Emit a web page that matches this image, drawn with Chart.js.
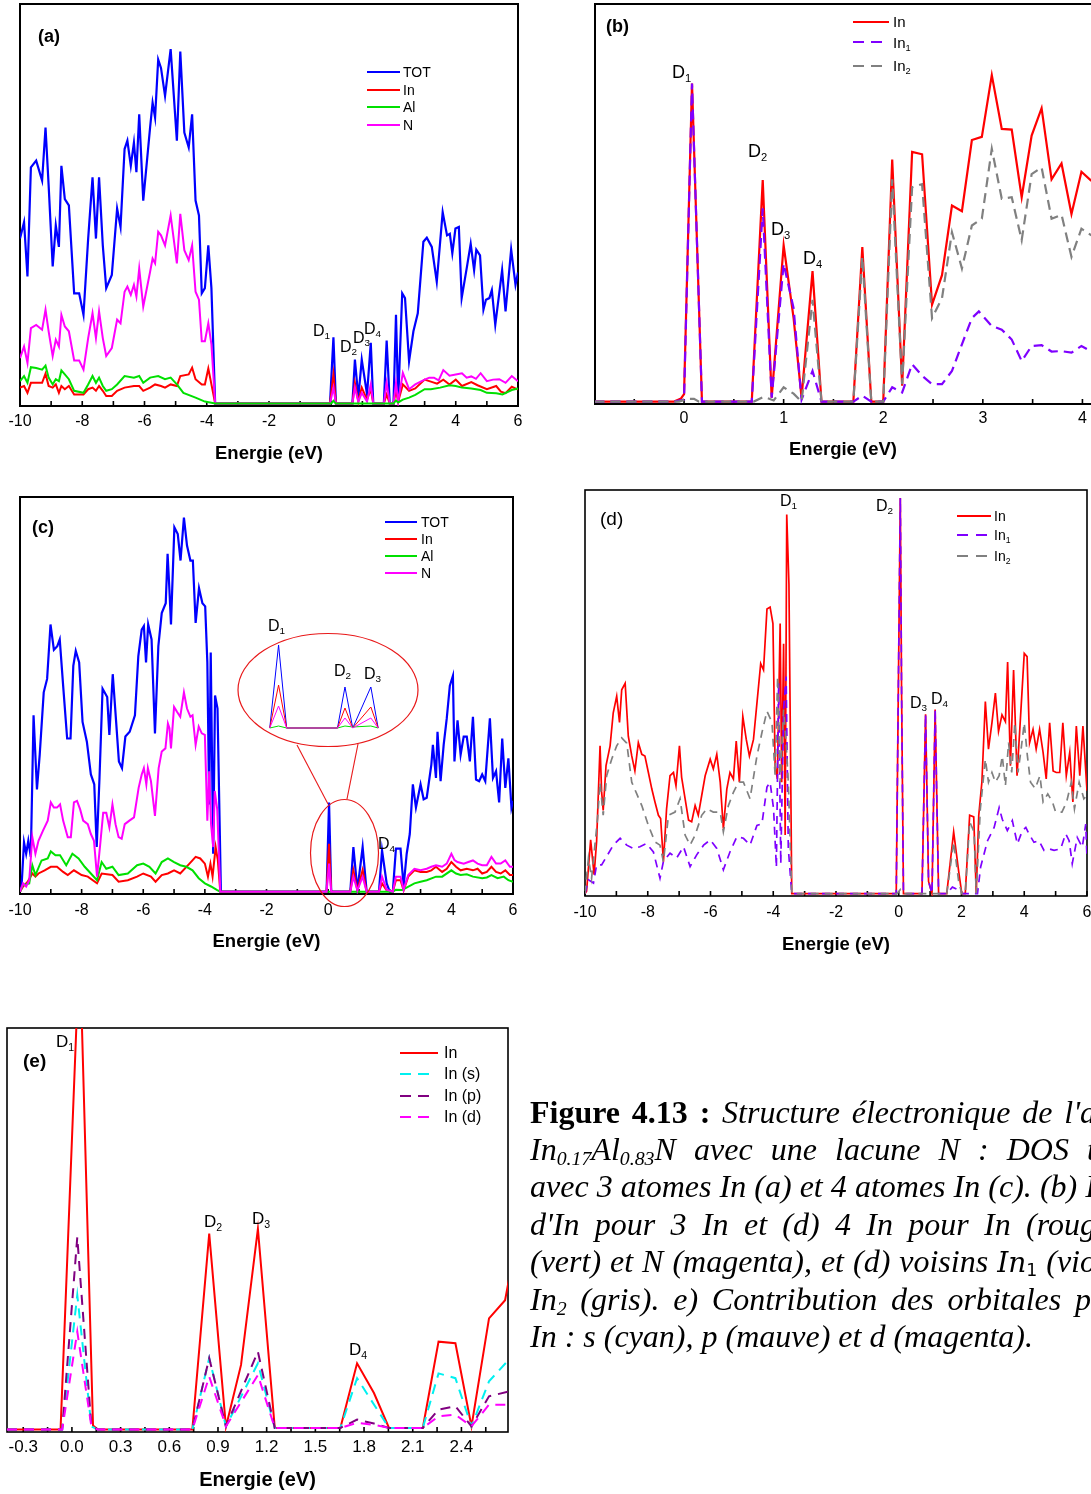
<!DOCTYPE html>
<html><head><meta charset="utf-8">
<script src="https://cdn.jsdelivr.net/npm/chart.js@4.4.1/dist/chart.umd.min.js"></script>
<style>
html,body{margin:0;padding:0;background:#fff;overflow:hidden;width:1091px;height:1494px;}
body{position:relative;font-family:'Liberation Sans',Arial,sans-serif;}
.box{position:absolute;}
.lbl{position:absolute;white-space:nowrap;color:#000;line-height:1;}
.lbl sub{font-size:62%;vertical-align:-0.35em;line-height:0;}
#cap{position:absolute;left:530px;top:1094px;font-family:'Liberation Serif','Times New Roman',serif;font-size:32px;line-height:37.2px;color:#000;}
#cap .cl{white-space:nowrap;width:566px;text-align:justify;text-align-last:justify;font-style:italic;}
#cap .cl.last{text-align:left;text-align-last:left;}
#cap b{font-style:normal;}
#cap sub{font-size:62%;vertical-align:-0.25em;line-height:0;}
#cap .m{font-family:'DejaVu Serif',serif;font-size:28px;}
#cap .m sub{font-style:normal;font-family:'DejaVu Sans',sans-serif;}
</style></head><body>

<script>
// ---------------- DATA ----------------
// tick labels
const TICKS_WIDE = [-10,-8,-6,-4,-2,0,2,4,6];
const TICKS_B = [0,1,2,3,4];
const TICKS_E = [-0.3,0.0,0.3,0.6,0.9,1.2,1.5,1.8,2.1,2.4];

// Panel (a): DOS, 3 In atoms  [energy eV, DOS (relative %)]
const A_TOT = [[-10,41.3],[-9.87,45.4],[-9.76,31.8],[-9.65,59.1],[-9.48,60.8],[-9.29,55.8],[-9.18,69.1],[-9.08,54.6],[-8.95,34.3],[-8.85,44.6],[-8.75,39.2],[-8.67,59.5],[-8.56,51.2],[-8.43,49.6],[-8.26,27.6],[-8.10,27.6],[-7.96,22.2],[-7.81,41.3],[-7.67,56.6],[-7.56,41.3],[-7.46,56.6],[-7.34,39.6],[-7.23,28.9],[-7.05,32.2],[-6.88,48.8],[-6.77,44.2],[-6.64,63.7],[-6.55,65.8],[-6.44,59.5],[-6.34,65.3],[-6.26,57.9],[-6.17,72.4],[-6.04,50.8],[-5.82,69.1],[-5.74,75.3],[-5.66,71.6],[-5.56,86.1],[-5.47,84.0],[-5.34,77.0],[-5.16,88.7],[-4.96,65.8],[-4.85,88.1],[-4.72,67.8],[-4.58,64.1],[-4.47,72.4],[-4.36,50.8],[-4.25,47.1],[-4.16,27.6],[-4.06,28.9],[-3.95,39.6],[-3.85,28.9],[-3.73,0],
[-0.04,0],[0.07,16.6],[0.15,0],[0.68,0],[0.76,11.0],[0.87,1.5],[0.98,11.0],[1.15,2.3],[1.27,15.2],[1.35,0],[1.69,0],[1.78,15.8],[1.88,0],[2.0,0],[2.08,22.2],[2.15,0.7],[2.28,27.6],[2.37,26.4],[2.5,10.6],[2.64,18.1],[2.78,22.6],[2.96,40.5],[3.07,41.5],[3.23,39.2],[3.39,30.5],[3.58,47.9],[3.72,42.1],[3.81,42.5],[3.89,37.6],[3.99,43.8],[4.1,44.2],[4.19,26.4],[4.37,34.7],[4.48,40.0],[4.59,33.4],[4.66,38.5],[4.78,37.1],[4.89,23.5],[4.97,26.0],[5.08,26.4],[5.16,28.4],[5.27,19.7],[5.49,33.4],[5.6,23.1],[5.78,38.6],[5.92,29.7],[6.0,32.8]];
const A_IN = [[-10,4.0],[-9.87,4.4],[-9.76,2.7],[-9.65,5.2],[-9.29,5.2],[-9.18,7.5],[-9.08,4.4],[-8.95,4.0],[-8.85,4.8],[-8.75,2.7],[-8.67,4.4],[-8.56,3.6],[-8.43,4.4],[-8.26,2.3],[-7.96,2.3],[-7.81,3.6],[-7.67,4.0],[-7.56,3.2],[-7.46,4.4],[-7.34,3.2],[-7.23,1.9],[-7.05,1.9],[-6.88,3.2],[-6.64,4.0],[-6.34,4.4],[-6.17,4.4],[-6.04,3.2],[-5.82,4.0],[-5.66,4.8],[-5.47,4.4],[-5.34,4.0],[-5.16,4.8],[-4.96,4.4],[-4.85,6.9],[-4.58,7.3],[-4.47,9.0],[-4.36,6.1],[-4.16,4.8],[-4.06,4.8],[-3.95,8.8],[-3.85,4.8],[-3.73,0],
[-0.04,0],[0.07,7.3],[0.15,0],[0.68,0],[0.76,5.2],[0.87,0.5],[0.98,4.0],[1.15,1.0],[1.27,3.6],[1.35,0],[1.69,0],[1.78,2.3],[1.88,0],[2.0,0],[2.08,3.2],[2.15,0.5],[2.3,4.8],[2.5,3.2],[2.7,3.8],[3.0,6.0],[3.2,5.5],[3.4,5.0],[3.6,6.0],[3.8,4.8],[4.0,6.0],[4.2,4.4],[4.5,5.4],[4.7,4.6],[5.0,3.6],[5.3,4.4],[5.45,3.0],[5.6,2.6],[5.8,4.2],[6.0,3.5]];
const A_AL = [[-10,5.6],[-9.87,6.9],[-9.76,5.2],[-9.65,9.1],[-9.48,8.9],[-9.29,8.5],[-9.18,9.5],[-9.08,6.5],[-8.95,4.8],[-8.85,6.1],[-8.75,5.6],[-8.67,8.3],[-8.56,7.3],[-8.43,6.1],[-8.26,3.2],[-7.96,2.7],[-7.81,4.8],[-7.67,6.9],[-7.56,5.2],[-7.46,6.5],[-7.34,4.4],[-7.23,3.2],[-7.05,3.6],[-6.88,4.8],[-6.64,6.9],[-6.34,6.5],[-6.17,6.9],[-6.04,5.2],[-5.82,6.5],[-5.56,6.9],[-5.34,6.1],[-5.16,6.5],[-4.96,4.8],[-4.75,2.7],[-4.36,1.5],[-4.06,0.5],[-3.73,0],
[0.0,0],[0.07,0.7],[0.15,0],[2.0,0],[2.08,0.8],[2.15,0.3],[2.3,1.0],[2.5,1.5],[2.7,2.2],[3.0,3.6],[3.2,3.6],[3.5,4.0],[3.8,4.6],[4.0,4.4],[4.2,4.0],[4.5,3.8],[4.8,3.4],[5.0,2.7],[5.3,2.6],[5.5,2.3],[5.8,3.4],[6.0,3.8]];
const A_N = [[-10,11.4],[-9.87,14.3],[-9.76,10.2],[-9.65,18.9],[-9.48,19.7],[-9.29,18.5],[-9.18,23.5],[-9.08,18.1],[-8.95,11.9],[-8.85,16.0],[-8.75,14.3],[-8.67,22.2],[-8.56,19.3],[-8.43,18.1],[-8.26,10.8],[-8.10,10.8],[-7.96,8.5],[-7.81,16.4],[-7.67,22.6],[-7.56,16.4],[-7.46,23.1],[-7.34,16.4],[-7.23,11.9],[-7.05,13.9],[-6.88,21.0],[-6.77,20.1],[-6.64,28.0],[-6.55,29.3],[-6.44,27.2],[-6.34,29.7],[-6.26,26.8],[-6.17,33.8],[-6.04,24.3],[-5.82,33.0],[-5.74,36.3],[-5.66,35.1],[-5.56,43.0],[-5.47,42.1],[-5.34,39.6],[-5.16,47.1],[-4.96,35.1],[-4.85,47.5],[-4.72,38.4],[-4.58,35.9],[-4.47,39.6],[-4.36,28.0],[-4.25,26.0],[-4.16,15.6],[-4.06,15.6],[-3.95,20.1],[-3.85,14.8],[-3.73,0],
[-0.04,0],[0.07,4.0],[0.15,0],[0.68,0],[0.76,4.0],[0.87,0.5],[0.98,2.7],[1.15,0.5],[1.27,4.8],[1.35,0],[1.69,0],[1.78,5.2],[1.88,0],[2.0,0],[2.08,5.2],[2.15,0.5],[2.3,7.7],[2.5,3.6],[2.7,4.8],[3.0,6.0],[3.15,6.5],[3.3,6.5],[3.45,5.8],[3.6,8.4],[3.8,7.0],[4.0,7.3],[4.2,7.6],[4.35,6.5],[4.5,6.8],[4.65,6.2],[4.8,7.6],[5.0,5.6],[5.2,6.0],[5.4,6.1],[5.6,5.2],[5.8,6.9],[6.0,5.6]];

// Panel (b): In partial DOS, 3 In
const B_IN = [[-0.9,0],[-0.1,0],[-0.03,0.8],[0,1.9],[0.08,80],[0.18,0],[0.68,0],[0.79,55.7],[0.88,1],[1.0,39.3],[1.1,21],[1.18,1],[1.29,32.8],[1.38,0],[1.7,0],[1.79,38.9],[1.88,0],[2.0,0],[2.09,60.9],[2.19,4],[2.29,62.8],[2.39,62.2],[2.49,24.4],[2.59,31.8],[2.69,49.3],[2.79,47.9],[2.89,65.8],[2.99,66.6],[3.09,82.1],[3.19,68.6],[3.29,68.4],[3.39,51.4],[3.49,66.9],[3.59,73.8],[3.69,55.9],[3.79,59.9],[3.89,47.2],[3.99,57.8],[4.09,55.5],[4.2,54]];
const B_IN1 = [[-0.9,0],[-0.1,0],[0,0.5],[0.08,80],[0.18,0],[0.68,0],[0.79,48.6],[0.88,1],[1.0,34.7],[1.1,23.5],[1.18,0.5],[1.29,7.7],[1.38,0],[1.7,0],[1.79,1.5],[1.88,0],[2.0,0],[2.09,3.6],[2.19,2.3],[2.29,9.4],[2.39,6.5],[2.49,4.4],[2.59,4.4],[2.69,7.7],[2.79,14.4],[2.89,21],[2.96,22.7],[3.09,19],[3.19,18.1],[3.29,15.6],[3.39,10.2],[3.49,14],[3.59,14.2],[3.69,12.6],[3.79,12.7],[3.89,12.3],[3.99,14],[4.09,12.6],[4.2,13]];
const B_IN2 = [[-0.9,0],[-0.05,0],[0.03,0.7],[0.1,0.7],[0.15,0],[0.7,0],[0.8,1.2],[0.9,0.3],[1.0,3.6],[1.1,2],[1.18,0],[1.29,25.6],[1.38,0],[1.7,0],[1.79,36.4],[1.88,0],[2.0,0],[2.09,55.9],[2.19,4.4],[2.29,53.9],[2.39,54.7],[2.49,21],[2.59,26],[2.69,42.6],[2.79,33.5],[2.89,44.3],[2.99,46],[3.09,63.6],[3.19,51],[3.29,51.4],[3.39,40.6],[3.49,57.2],[3.59,58.9],[3.69,46],[3.79,47],[3.89,36.4],[3.99,43.5],[4.09,41.8],[4.2,41]];

// Panel (c): DOS, 4 In atoms
const C_TOT = [[-10,0],[-9.95,1.3],[-9.87,12.5],[-9.80,9.6],[-9.73,12.9],[-9.65,8.8],[-9.56,44.7],[-9.45,25.9],[-9.36,34.7],[-9.23,50.5],[-9.12,53.9],[-9.01,67.7],[-8.90,61.3],[-8.79,62.2],[-8.71,63.9],[-8.60,52.2],[-8.47,38.8],[-8.36,38.8],[-8.27,57.2],[-8.19,61.0],[-8.08,58.1],[-7.97,43.0],[-7.83,38.0],[-7.70,29.7],[-7.59,27.2],[-7.51,11.3],[-7.42,28.8],[-7.32,51.4],[-7.17,49.3],[-7.10,39.7],[-6.99,55.1],[-6.88,43.0],[-6.79,33.0],[-6.69,31.3],[-6.58,39.3],[-6.44,40.5],[-6.27,44.7],[-6.16,59.7],[-6.05,66.4],[-5.98,67.3],[-5.91,58.1],[-5.84,67.7],[-5.73,63.9],[-5.62,40.1],[-5.51,62.2],[-5.40,70.6],[-5.27,73.1],[-5.21,85.6],[-5.15,76.4],[-5.10,67.7],[-4.99,92.3],[-4.88,90.6],[-4.79,83.9],[-4.68,94.8],[-4.58,87.7],[-4.47,83.9],[-4.39,83.9],[-4.30,68.1],[-4.19,76.9],[-4.08,73.1],[-3.99,72.3],[-3.92,58.1],[-3.86,22.1],[-3.81,60.6],[-3.73,9.6],[-3.67,49.7],[-3.59,46.4],[-3.48,0],
[-0.05,0],[0.03,22.6],[0.1,0],[0.72,0],[0.82,11.3],[0.95,0.4],[1.12,11.3],[1.25,0],[1.65,0],[1.75,10.4],[1.9,2.1],[2.0,0],[2.1,0],[2.2,10.9],[2.35,10.9],[2.45,1.3],[2.55,9.6],[2.65,14.6],[2.75,27.2],[2.85,21.3],[3.0,27.2],[3.1,23.4],[3.2,23.8],[3.35,32.2],[3.4,37.2],[3.5,28.8],[3.55,40.5],[3.65,28.0],[3.75,37.2],[3.85,43.9],[3.95,52.2],[4.05,54.7],[4.1,33.0],[4.2,43.4],[4.3,34.7],[4.4,39.3],[4.5,39.3],[4.6,33.0],[4.7,44.3],[4.8,28.4],[4.9,28.0],[5.0,29.7],[5.1,28.0],[5.25,43.9],[5.35,28.8],[5.45,30.5],[5.55,22.6],[5.65,38.8],[5.75,26.3],[5.85,33.8],[5.95,21.3],[6.0,23.0]];
const C_IN = [[-10,0],[-9.9,1.3],[-9.75,2.5],[-9.6,4.6],[-9.5,3.8],[-9.4,4.6],[-9.2,5.4],[-9.0,6.3],[-8.8,6.3],[-8.6,5.0],[-8.45,4.2],[-8.25,5.4],[-8.0,4.2],[-7.8,3.8],[-7.5,2.1],[-7.35,4.6],[-7.0,4.2],[-6.8,2.5],[-6.5,2.9],[-6.2,3.8],[-6.0,4.6],[-5.75,3.8],[-5.6,2.5],[-5.4,4.2],[-5.2,4.6],[-5.0,5.4],[-4.8,4.6],[-4.5,7.1],[-4.3,8.8],[-4.15,8.4],[-4.0,7.1],[-3.9,3.8],[-3.82,7.1],[-3.75,3.8],[-3.65,11.3],[-3.58,8.0],[-3.5,0],
[-0.05,0],[0.03,12.1],[0.1,0],[0.72,0],[0.82,5.4],[0.95,0.3],[1.12,5.5],[1.25,0],[1.65,0],[1.75,2.1],[1.9,0.3],[2.1,0],[2.2,2.9],[2.35,2.9],[2.45,0.3],[2.6,3.8],[2.8,5.4],[3.0,5.0],[3.2,5.0],[3.35,5.4],[3.5,6.3],[3.7,5.0],[3.85,5.8],[4.0,7.5],[4.15,6.3],[4.3,5.4],[4.5,5.8],[4.7,5.4],[4.85,5.8],[5.0,4.6],[5.15,5.0],[5.3,6.3],[5.45,5.0],[5.6,4.6],[5.75,5.4],[5.9,4.2],[6.0,4.2]];
const C_AL = [[-10,0],[-9.9,1.7],[-9.7,2.1],[-9.6,6.7],[-9.5,4.2],[-9.3,7.9],[-9.1,8.4],[-9.0,10.2],[-8.85,9.2],[-8.7,9.2],[-8.5,6.7],[-8.3,9.6],[-8.1,8.4],[-7.9,6.3],[-7.7,4.6],[-7.5,2.9],[-7.35,7.5],[-7.2,5.8],[-7.0,6.3],[-6.8,4.2],[-6.5,4.6],[-6.2,6.7],[-6.0,7.1],[-5.8,6.3],[-5.6,4.6],[-5.4,7.5],[-5.2,8.4],[-5.0,7.5],[-4.8,6.7],[-4.6,6.3],[-4.4,5.4],[-4.2,3.4],[-4.0,2.1],[-3.8,1.3],[-3.6,0.4],[-3.5,0],
[2.1,0],[2.2,0.5],[2.4,0.4],[2.5,0.8],[2.8,2.1],[3.0,2.5],[3.2,2.9],[3.5,3.8],[3.7,3.8],[4.0,5.4],[4.15,4.6],[4.3,4.2],[4.5,4.4],[4.7,3.8],[5.0,3.4],[5.15,3.6],[5.3,4.2],[5.5,3.4],[5.7,3.8],[5.85,2.9],[6.0,2.5]];
const C_N = [[-10,0],[-9.9,2.1],[-9.8,1.3],[-9.7,2.9],[-9.6,13.8],[-9.5,9.6],[-9.4,12.9],[-9.25,15.5],[-9.1,18],[-9.0,22.6],[-8.9,21.3],[-8.8,21.3],[-8.7,22.1],[-8.6,18],[-8.45,13.8],[-8.35,13.8],[-8.25,22.6],[-8.15,23],[-8.05,20.9],[-7.95,18],[-7.8,17.1],[-7.7,14.6],[-7.6,12.9],[-7.5,3.8],[-7.4,11.7],[-7.3,20],[-7.2,20],[-7.1,16.3],[-7.0,22.1],[-6.9,17.1],[-6.8,13.8],[-6.7,13.4],[-6.6,17.1],[-6.45,18],[-6.3,18.8],[-6.15,26.3],[-6.05,29.7],[-5.98,31.3],[-5.9,27.2],[-5.85,31.3],[-5.75,28],[-5.62,19.2],[-5.5,31.3],[-5.4,35.5],[-5.28,36.3],[-5.2,42.6],[-5.15,41.4],[-5.1,36.3],[-5.0,46.8],[-4.9,45.5],[-4.8,44.3],[-4.68,50.5],[-4.58,46.4],[-4.47,44.3],[-4.4,44.7],[-4.3,37.2],[-4.2,41.8],[-4.1,40.1],[-4.0,39.7],[-3.92,18],[-3.86,30.5],[-3.8,17.1],[-3.73,11.3],[-3.68,25.5],[-3.6,20.9],[-3.5,0],
[-0.05,0],[0.03,7.1],[0.1,0],[0.72,0],[0.82,3.8],[0.95,0.3],[1.12,3.8],[1.25,0],[1.65,0],[1.75,3.8],[1.9,0.5],[2.1,0],[2.2,3.8],[2.35,3.8],[2.45,0.5],[2.6,4.2],[2.8,5.8],[3.0,5.4],[3.2,5.8],[3.35,6.3],[3.5,6.7],[3.7,6.3],[3.85,7.1],[4.0,9.6],[4.1,8.0],[4.2,7.5],[4.4,7.1],[4.55,7.5],[4.7,7.9],[4.85,7.1],[5.0,6.7],[5.15,6.7],[5.3,8.8],[5.45,7.1],[5.6,7.1],[5.75,7.9],[5.9,6.3],[6.0,6.3]];

// Panel (c) inset (zoom on D1-D3)
const INSET_TOT = [[-0.052,0],[0.05,83],[0.144,0],[0.733,0],[0.82,41],[0.91,0],[1.12,41],[1.205,0]];
const INSET_IN  = [[-0.052,0],[0.05,43],[0.144,0],[0.733,0],[0.82,20],[0.91,0],[1.12,21],[1.205,0]];
const INSET_AL  = [[-0.052,0],[0.05,2],[0.144,0],[0.733,0],[0.82,2],[0.91,1],[1.12,2],[1.205,0]];
const INSET_N   = [[-0.052,0],[0.05,22],[0.144,0],[0.733,0],[0.82,10],[0.91,0],[1.12,10],[1.205,0]];

// Panel (d): In partial DOS, 4 In
const D_IN = [[-10,0],[-9.95,0.6],[-9.82,13.3],[-9.71,4.7],[-9.63,12.9],[-9.52,36.6],[-9.47,25.2],[-9.42,20.6],[-9.33,31.7],[-9.20,36.6],[-9.10,44.8],[-8.99,48.9],[-8.90,42.4],[-8.83,50.5],[-8.72,52.1],[-8.62,39.0],[-8.51,34.1],[-8.41,30.4],[-8.30,37.4],[-8.19,34.5],[-8.09,34.1],[-7.98,30.0],[-7.87,25.9],[-7.77,22.7],[-7.66,19.4],[-7.59,18.6],[-7.50,7.9],[-7.40,21.0],[-7.29,29.2],[-7.18,30.0],[-7.10,26.7],[-6.99,36.6],[-6.92,28.8],[-6.81,23.5],[-6.70,18.2],[-6.60,17.8],[-6.49,21.8],[-6.39,19.4],[-6.28,24.3],[-6.17,29.2],[-6.01,33.3],[-5.91,30.9],[-5.80,34.5],[-5.69,27.6],[-5.59,16.1],[-5.48,25.9],[-5.38,30.0],[-5.27,28.4],[-5.18,37.8],[-5.08,27.6],[-4.97,43.9],[-4.86,38.2],[-4.76,34.1],[-4.63,38.2],[-4.52,47.2],[-4.40,57.0],[-4.31,55.4],[-4.20,70.5],[-4.10,71.0],[-4.01,66.9],[-3.94,31.7],[-3.87,28.4],[-3.78,66.9],[-3.73,27.6],[-3.67,61.9],[-3.62,14.5],[-3.57,93.9],[-3.50,76.7],[-3.46,43.9],[-3.41,0],
[-0.08,0],[0.05,98],[0.09,50],[0.15,0],[0.74,0],[0.855,44.4],[0.95,3],[1.06,0],[1.16,45.6],[1.27,0],[1.53,0],[1.75,15.3],[1.91,5.5],[2.01,0],[2.12,0],[2.26,19.4],[2.39,19],[2.47,0],[2.55,19.4],[2.65,27.6],[2.76,47.6],[2.86,35.8],[2.97,42.3],[3.08,49.7],[3.18,40.2],[3.29,44.3],[3.40,42.6],[3.47,57.4],[3.56,31.7],[3.66,55.4],[3.77,29.2],[3.87,42.3],[4.0,59.5],[4.09,58.7],[4.17,37.4],[4.28,40.7],[4.38,35.8],[4.49,40.7],[4.6,35],[4.7,28.4],[4.81,42.3],[4.92,30.4],[5.02,30],[5.13,30],[5.23,42.3],[5.34,29.2],[5.45,35],[5.55,22.7],[5.66,41.5],[5.77,29.2],[5.87,41.5],[6.0,25.5]];
const D_IN1 = [[-10,0],[-9.89,3.4],[-9.73,2.6],[-9.63,7.1],[-9.47,7.1],[-9.31,9.2],[-9.1,12],[-8.88,13.7],[-8.67,12],[-8.46,11.2],[-8.25,11.6],[-8.04,12.4],[-7.82,10.3],[-7.61,3.8],[-7.5,8],[-7.29,10],[-7.08,8.8],[-6.86,11.6],[-6.65,6.7],[-6.44,9.6],[-6.22,12],[-6.01,13.3],[-5.8,11.2],[-5.59,5.9],[-5.38,10.3],[-5.16,14.1],[-4.95,13.7],[-4.74,12],[-4.52,16.9],[-4.36,17.3],[-4.2,26.4],[-4.1,27.6],[-3.99,21],[-3.9,6.5],[-3.83,52.1],[-3.76,7.4],[-3.67,45.6],[-3.59,53.8],[-3.52,11.2],[-3.41,0],
[-0.08,0],[0.05,98],[0.09,50],[0.15,0],[0.74,0],[0.855,44.4],[0.95,3],[1.06,0],[1.16,45.6],[1.27,0],[1.53,0],[1.71,1.6],[1.87,1],[2.03,0],[2.51,0],[2.61,6.6],[2.83,13.1],[3.04,16.4],[3.2,21.3],[3.3,18.4],[3.46,15.6],[3.62,18.1],[3.78,12.3],[3.94,15.6],[4.05,16.4],[4.15,14.8],[4.31,12.7],[4.47,13.1],[4.63,10.7],[4.79,11.1],[4.95,10.7],[5.16,11.1],[5.32,14.8],[5.43,13.1],[5.53,7.4],[5.69,13.9],[5.85,11.5],[5.96,17.2],[6.0,9]];
const D_IN2 = [[-10,0],[-9.89,8.8],[-9.79,3.8],[-9.6,18.6],[-9.52,27.6],[-9.42,19.4],[-9.31,29.2],[-9.15,33.3],[-8.99,36.6],[-8.83,38.6],[-8.67,37.3],[-8.51,27.6],[-8.35,24.7],[-8.19,21.8],[-7.98,16.9],[-7.77,12.8],[-7.61,12.0],[-7.5,7.9],[-7.34,19.4],[-7.13,20.2],[-6.97,23.5],[-6.81,14.5],[-6.65,12.0],[-6.49,14.5],[-6.28,19.4],[-6.12,21.0],[-5.91,20.2],[-5.69,20.2],[-5.59,15.3],[-5.43,21.8],[-5.27,25.1],[-5.11,27.6],[-4.95,27.6],[-4.74,23.5],[-4.52,34.1],[-4.36,39.9],[-4.20,45.2],[-4.04,42.4],[-3.94,29.2],[-3.86,53.8],[-3.78,27.6],[-3.67,45.6],[-3.59,37.4],[-3.52,27.6],[-3.41,0],
[-0.05,0],[0.05,1],[0.12,0],[1.53,0],[1.75,12.8],[1.91,3],[2.01,0],[2.12,0],[2.26,17.8],[2.4,15.3],[2.47,0],[2.6,21],[2.76,33.3],[2.86,27.6],[2.97,30],[3.08,27.6],[3.2,29.2],[3.3,34.1],[3.4,26.7],[3.5,37.4],[3.6,30],[3.7,42.3],[3.8,30],[3.9,35.8],[4.0,42.3],[4.1,34.1],[4.2,27.6],[4.35,26],[4.5,29.2],[4.6,22.7],[4.75,24.7],[4.9,22.7],[5.0,20.2],[5.2,20.2],[5.35,22.7],[5.5,27.6],[5.6,21],[5.75,27.6],[5.9,23.5],[6.0,24.3]];

// Panel (e): orbital contributions of In
const E_IN = [[-0.4,0],[-0.07,0],[0.03,103],[0.06,103],[0.13,1],[0.16,0],[0.742,0],[0.846,48.8],[0.949,0.7],[1.042,16.1],[1.146,50],[1.25,0.4],[1.654,0.4],[1.757,16.5],[1.861,9.1],[1.954,0.4],[2.162,0.4],[2.259,21.9],[2.363,21.5],[2.462,0.8],[2.57,27.7],[2.669,32.2],[2.694,37.6]];
const E_S = [[-0.4,0],[-0.06,0],[0.033,33.5],[0.12,0.8],[0.16,0],[0.742,0],[0.846,17.8],[0.949,0.8],[1.146,16.5],[1.25,0.4],[1.654,0.4],[1.757,12.8],[1.954,0.4],[2.162,0.4],[2.259,14],[2.363,12.8],[2.462,0.8],[2.57,12],[2.694,17.5]];
const E_P = [[-0.4,0],[-0.06,0],[0.033,47.9],[0.12,0.8],[0.16,0],[0.742,0],[0.846,17.8],[0.949,0.8],[1.146,19.4],[1.25,0.4],[1.654,0.4],[1.757,2.5],[1.861,1.5],[1.954,0.4],[2.162,0.4],[2.259,5],[2.363,5.8],[2.462,0.8],[2.57,8.3],[2.694,9.5]];
const E_D = [[-0.4,0],[-0.06,0],[0.033,24.4],[0.12,0.8],[0.16,0],[0.742,0],[0.846,13.2],[0.949,0.8],[1.146,13.6],[1.25,0.4],[1.654,0.4],[1.757,1.7],[1.861,1.2],[1.954,0.4],[2.162,0.4],[2.259,3.3],[2.363,3.7],[2.462,0.8],[2.57,6.2],[2.694,6.2]];

// ---------------- RENDERING ----------------
Chart.defaults.font.family = "'Liberation Sans', Arial, sans-serif";
Chart.defaults.color = '#000';

const framePlugin = {
  id: 'frame',
  beforeDatasetsDraw(chart, args, opts) {
    const {ctx, chartArea: a} = chart;
    const x = chart.scales.x;
    ctx.save();
    ctx.strokeStyle = '#000';
    ctx.lineWidth = opts.lw || 2;
    if (opts.noRight) {
      ctx.beginPath();
      ctx.moveTo(a.right + 5, a.top); ctx.lineTo(a.left, a.top);
      ctx.lineTo(a.left, a.bottom); ctx.lineTo(a.right + 5, a.bottom);
      ctx.stroke();
    } else {
      ctx.strokeRect(a.left, a.top, a.right - a.left, a.bottom - a.top);
    }
    ctx.lineWidth = 1.6;
    ctx.beginPath();
    for (let i = 0; i <= opts.n; i++) {
      const v = opts.start + i * opts.step;
      const px = x.getPixelForValue(v);
      ctx.moveTo(px, a.bottom);
      ctx.lineTo(px, a.bottom - 5);
    }
    ctx.stroke();
    ctx.restore();
  }
};

function pts(arr) { return arr.map(p => ({x: p[0], y: p[1]})); }

function makePanel(c) {
  const PADL = 40, PADR = 40, PADT = 6, PADB = 4;
  const w = Math.round(c.w + PADL + PADR), h = Math.round(c.h + PADT + c.axh + PADB);
  const div = document.createElement('div');
  div.className = 'box';
  div.style.left = (c.left - PADL) + 'px';
  div.style.top = (c.top - PADT) + 'px';
  const cv = document.createElement('canvas');
  cv.width = w; cv.height = h;
  cv.style.width = w + 'px'; cv.style.height = h + 'px';
  div.appendChild(cv);
  document.body.appendChild(div);
  new Chart(cv, {
    type: 'line',
    data: {datasets: c.series.map((s, i) => ({
      label: s.label, data: pts(s.data), borderColor: s.color,
      borderWidth: s.width || 2, borderDash: s.dash || [],
      pointRadius: 0, tension: 0, fill: false, order: s.order
    }))},
    options: {
      responsive: false, animation: false, devicePixelRatio: 1,
      layout: {padding: {left: PADL, right: w - PADL - c.w, top: PADT, bottom: PADB}},
      plugins: {legend: {display: false}, tooltip: {enabled: false},
        frame: {start: c.mStart, step: c.mStep, n: c.mN, lw: c.frameW || 2, noRight: !!c.noRight}},
      scales: {
        x: {type: 'linear', min: c.xmin, max: c.xmax,
          afterBuildTicks: s => { s.ticks = c.ticks.map(v => ({value: v})); },
          afterFit: s => { s.height = c.axh; },
          ticks: {callback: c.fmt, font: {size: c.tickSize}, color: '#000', padding: c.tickPad, maxRotation: 0, autoSkip: false},
          grid: {display: false, drawTicks: false},
          border: {display: false},
          title: {display: true, text: 'Energie (eV)', color: '#000', font: {size: c.titleSize, weight: 'bold'}, padding: 0}
        },
        y: {display: false, min: -0.6, max: 100}
      }
    },
    plugins: [framePlugin]
  });
}

const intFmt = v => String(v);
const decFmt = v => v.toFixed(1);

// (a)
makePanel({left: 20, top: 4, w: 498, h: 402, axh: 59, xmin: -10, xmax: 6, ticks: TICKS_WIDE, fmt: intFmt,
  tickSize: 16, tickPad: 6, titleSize: 18.5, mStart: -10, mStep: 1, mN: 16,
  series: [
    {label: 'TOT', data: A_TOT, color: '#0000ff', width: 2.2, order: 4},
    {label: 'In', data: A_IN, color: '#ff0000', width: 2, order: 3},
    {label: 'Al', data: A_AL, color: '#00e000', width: 2, order: 1},
    {label: 'N', data: A_N, color: '#ff00ff', width: 2, order: 2}
  ]});
// (b)  (right side of the frame lies outside the picture)
makePanel({left: 595, top: 4, w: 496, h: 400, axh: 57, xmin: -0.894, xmax: 4.086, ticks: TICKS_B, fmt: intFmt,
  tickSize: 16, tickPad: 5, titleSize: 18.5, mStart: -0.5, mStep: 0.5, mN: 9, noRight: true,
  series: [
    {label: 'In', data: B_IN, color: '#ff0000', width: 2.2, order: 3},
    {label: 'In1', data: B_IN1, color: '#7f00ff', width: 2.2, dash: [10, 6], order: 2},
    {label: 'In2', data: B_IN2, color: '#808080', width: 2.2, dash: [10, 6], order: 1}
  ]});
// (c)
makePanel({left: 20, top: 497, w: 493, h: 397, axh: 59, xmin: -10, xmax: 6, ticks: TICKS_WIDE, fmt: intFmt,
  tickSize: 16, tickPad: 7, titleSize: 18.5, mStart: -10, mStep: 1, mN: 16,
  series: [
    {label: 'TOT', data: C_TOT, color: '#0000ff', width: 2.2, order: 4},
    {label: 'In', data: C_IN, color: '#ff0000', width: 2, order: 3},
    {label: 'Al', data: C_AL, color: '#00e000', width: 2, order: 2},
    {label: 'N', data: C_N, color: '#ff00ff', width: 2, order: 1}
  ]});
// (d)
makePanel({left: 585, top: 490, w: 502, h: 406, axh: 60, xmin: -10, xmax: 6, ticks: TICKS_WIDE, fmt: intFmt,
  tickSize: 16, tickPad: 7, titleSize: 18.5, mStart: -10, mStep: 1, mN: 16, frameW: 1.6,
  series: [
    {label: 'In', data: D_IN, color: '#ff0000', width: 1.7, order: 3},
    {label: 'In1', data: D_IN1, color: '#7f00ff', width: 1.7, dash: [8, 6], order: 2},
    {label: 'In2', data: D_IN2, color: '#808080', width: 1.7, dash: [8, 6], order: 1}
  ]});
// (e)
makePanel({left: 7, top: 1028, w: 501, h: 404, axh: 60, xmin: -0.4, xmax: 2.687, ticks: TICKS_E, fmt: decFmt,
  tickSize: 17, tickPad: 5, titleSize: 20, mStart: -0.3, mStep: 0.15, mN: 19, frameW: 1.6,
  series: [
    {label: 'In', data: E_IN, color: '#ff0000', width: 2, order: 4},
    {label: 'In (s)', data: E_S, color: '#00f0f0', width: 2, dash: [10, 7], order: 3},
    {label: 'In (p)', data: E_P, color: '#800080', width: 2, dash: [10, 7], order: 2},
    {label: 'In (d)', data: E_D, color: '#ff00ff', width: 2, dash: [10, 7], order: 1}
  ]});

// inset of (c)
(function () {
  const W = 138, H = 102;
  const div = document.createElement('div');
  div.className = 'box';
  div.style.left = '257px'; div.style.top = '628px';
  const cv = document.createElement('canvas');
  cv.width = W; cv.height = H; cv.style.width = W + 'px'; cv.style.height = H + 'px';
  div.appendChild(cv); document.body.appendChild(div);
  new Chart(cv, {
    type: 'line',
    data: {datasets: [
      {data: pts(INSET_TOT), borderColor: '#0000ff', borderWidth: 1, order: 4},
      {data: pts(INSET_IN), borderColor: '#ff0000', borderWidth: 1, order: 3},
      {data: pts(INSET_AL), borderColor: '#00e000', borderWidth: 1, order: 2},
      {data: pts(INSET_N), borderColor: '#ff00ff', borderWidth: 1, order: 1}
    ].map(d => Object.assign(d, {pointRadius: 0, tension: 0, fill: false}))},
    options: {responsive: false, animation: false, devicePixelRatio: 1,
      layout: {padding: 0},
      plugins: {legend: {display: false}, tooltip: {enabled: false}},
      scales: {x: {type: 'linear', display: false, min: -0.2, max: 1.4}, y: {display: false, min: -2, max: 100}}}
  });
})();
</script>

<!-- inset ellipses (c) -->
<svg style="position:absolute;left:0;top:0;pointer-events:none" width="1091" height="1494">
  <ellipse cx="328" cy="690" rx="90" ry="56.5" fill="none" stroke="#e8191a" stroke-width="1.2"/>
  <ellipse cx="344.5" cy="853" rx="34" ry="53.5" fill="none" stroke="#e8191a" stroke-width="1.2"/>
  <line x1="297" y1="745" x2="328" y2="804" stroke="#e8191a" stroke-width="1.1"/>
  <line x1="358" y1="744" x2="347" y2="799" stroke="#e8191a" stroke-width="1.1"/>
</svg>

<script>
function lbl(x, yc, html, size, extra) {
  const d = document.createElement('div');
  d.className = 'lbl';
  d.style.left = x + 'px';
  d.style.top = (yc - 0.5 * size) + 'px';
  d.style.fontSize = size + 'px';
  if (extra) d.style.cssText += extra;
  d.innerHTML = html;
  document.body.appendChild(d);
}
function leg(x1, x2, y, color, dash, width, text, tx, size) {
  const ns = 'http://www.w3.org/2000/svg';
  const s = document.createElementNS(ns, 'svg');
  s.setAttribute('width', x2 - x1); s.setAttribute('height', 6);
  s.style.cssText = 'position:absolute;left:' + x1 + 'px;top:' + (y - 3) + 'px;';
  const l = document.createElementNS(ns, 'line');
  l.setAttribute('x1', 0); l.setAttribute('x2', x2 - x1); l.setAttribute('y1', 3); l.setAttribute('y2', 3);
  l.setAttribute('stroke', color); l.setAttribute('stroke-width', width);
  if (dash) l.setAttribute('stroke-dasharray', dash);
  s.appendChild(l); document.body.appendChild(s);
  lbl(tx, y, text, size);
}
// (a)
lbl(38, 36, '(a)', 18, 'font-weight:bold;');
lbl(313, 331, 'D<sub>1</sub>', 16);
lbl(340, 347, 'D<sub>2</sub>', 16);
lbl(353, 338, 'D<sub>3</sub>', 16);
lbl(364, 329, 'D<sub>4</sub>', 16);
leg(367, 400, 72, '#0000ff', null, 2, 'TOT', 403, 14);
leg(367, 400, 89.5, '#ff0000', null, 2, 'In', 403, 14);
leg(367, 400, 107, '#00e000', null, 2, 'Al', 403, 14);
leg(367, 400, 124.5, '#ff00ff', null, 2, 'N', 403, 14);
// (b)
lbl(606, 26, '(b)', 18, 'font-weight:bold;');
lbl(672, 72, 'D<sub>1</sub>', 18);
lbl(748, 151, 'D<sub>2</sub>', 18);
lbl(771, 229, 'D<sub>3</sub>', 18);
lbl(803, 258, 'D<sub>4</sub>', 18);
leg(853, 889, 21.5, '#ff0000', null, 2.2, 'In', 893, 15);
leg(853, 882, 42, '#7f00ff', '11 7', 2.2, 'In<sub>1</sub>', 893, 15);
leg(853, 882, 65.5, '#808080', '11 7', 2.2, 'In<sub>2</sub>', 893, 15);
// (c)
lbl(32, 527, '(c)', 18, 'font-weight:bold;');
lbl(268, 626, 'D<sub>1</sub>', 16);
lbl(334, 671, 'D<sub>2</sub>', 16);
lbl(364, 674, 'D<sub>3</sub>', 16);
lbl(378, 844, 'D<sub>4</sub>', 16);
leg(385, 417, 522, '#0000ff', null, 2, 'TOT', 421, 14);
leg(385, 417, 539, '#ff0000', null, 2, 'In', 421, 14);
leg(385, 417, 556, '#00e000', null, 2, 'Al', 421, 14);
leg(385, 417, 573, '#ff00ff', null, 2, 'N', 421, 14);
// (d)
lbl(600, 518, '(d)', 19);
lbl(780, 501, 'D<sub>1</sub>', 16);
lbl(876, 506, 'D<sub>2</sub>', 16);
lbl(910, 703, 'D<sub>3</sub>', 16);
lbl(931, 699, 'D<sub>4</sub>', 16);
leg(957, 991, 516, '#ff0000', null, 2, 'In', 994, 14);
leg(957, 987, 534.5, '#7f00ff', '11 8', 2, 'In<sub>1</sub>', 994, 14);
leg(957, 987, 555.5, '#808080', '11 8', 2, 'In<sub>2</sub>', 994, 14);
// (e)
lbl(23, 1060, '(e)', 19, 'font-weight:bold;');
lbl(56, 1041, 'D<sub>1</sub>', 17);
lbl(204, 1221, 'D<sub>2</sub>', 17);
lbl(252, 1218, 'D<sub>3</sub>', 17);
lbl(349, 1349, 'D<sub>4</sub>', 17);
leg(400, 438, 1053, '#ff0000', null, 2, 'In', 444, 16);
leg(400, 429, 1074, '#00f0f0', '11 7', 2, 'In (s)', 444, 16);
leg(400, 429, 1096, '#800080', '11 7', 2, 'In (p)', 444, 16);
leg(400, 429, 1116.5, '#ff00ff', '11 7', 2, 'In (d)', 444, 16);
</script>

<div id="cap">
  <div class="cl"><b>Figure 4.13 :</b> Structure électronique de l'a</div>
  <div class="cl">In<sub>0.17</sub>Al<sub>0.83</sub>N avec une lacune N : DOS t</div>
  <div class="cl">avec 3 atomes In (a) et 4 atomes In (c). (b) I</div>
  <div class="cl">d'In pour 3 In et (d) 4 In pour In (roug</div>
  <div class="cl">(vert) et N (magenta), et (d) voisins <span class="m">In<sub>1</sub></span> (vio</div>
  <div class="cl" style="width:561px">In<sub>2</sub> (gris). e) Contribution des orbitales p</div>
  <div class="cl last">In : s (cyan), p (mauve) et d (magenta).</div>
</div>
</body></html>
